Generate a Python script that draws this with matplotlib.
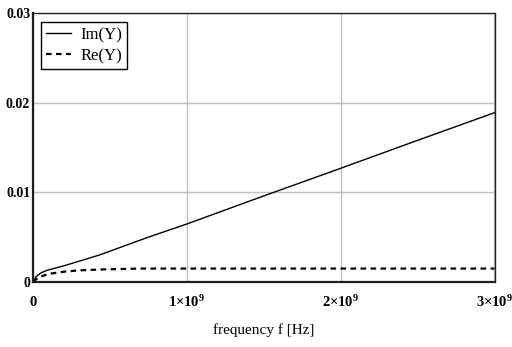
import matplotlib
matplotlib.use("Agg")
import matplotlib.pyplot as plt
from matplotlib.ticker import FixedLocator, FixedFormatter

plt.rcParams['mathtext.fontset'] = 'custom'
plt.rcParams['mathtext.rm'] = 'Liberation Serif'
plt.rcParams['mathtext.bf'] = 'Liberation Serif:bold'

# Data
freq_im = [0, 0.02e9, 0.05e9, 0.09e9, 0.2e9, 0.43e9, 0.75e9, 1.0e9, 1.5e9, 2.0e9, 2.5e9, 3.0e9]
im_y = [0, 0.0006, 0.0010, 0.0013, 0.0018, 0.0030, 0.0050, 0.00647, 0.0096, 0.01268, 0.0158, 0.01888]
freq_re = [0, 0.02e9, 0.05e9, 0.1e9, 0.2e9, 0.3e9, 0.45e9, 0.7e9, 1.0e9, 2.0e9, 3.0e9]
re_y = [0, 0.0003, 0.0006, 0.0009, 0.00115, 0.0013, 0.0014, 0.0015, 0.0015, 0.0015, 0.0015]

xticks = [0, 1e9, 2e9, 3e9]
xtick_labels = [r'$\mathbf{0}$', r'$\mathbf{1{\times}10^{9}}$', r'$\mathbf{2{\times}10^{9}}$', r'$\mathbf{3{\times}10^{9}}$']
yticks = [0, 0.01, 0.02, 0.03]
ytick_labels = ['0', '0.01', '0.02', '0.03']

fig = plt.figure(figsize=(5.12, 3.47), dpi=100)
ax = fig.add_axes([33/512, 1 - 282/347, (494.5 - 33)/512, (282 - 13)/347])

ax.plot(freq_im, im_y, color='black', lw=1.0, label='Im(Y)')
ax.plot(freq_re, re_y, color='black', lw=1.6, ls=(0, (2.5, 2.0)), label='Re(Y)')

ax.set_xlim(0, 3e9)
ax.set_ylim(0, 0.03)
ax.xaxis.set_major_locator(FixedLocator(xticks))
ax.xaxis.set_major_formatter(FixedFormatter(xtick_labels))
ax.yaxis.set_major_locator(FixedLocator(yticks))
ax.yaxis.set_major_formatter(FixedFormatter(ytick_labels))
ax.tick_params(axis='x', length=0, pad=9, labelsize=10.5)
ax.tick_params(axis='y', length=0, pad=2, labelsize=10)
for lbl in ax.get_yticklabels():
    lbl.set_fontfamily('Liberation Serif')
    lbl.set_fontweight('bold')
ax.grid(True, color='#c0c0c0', lw=1.0)
for s in ['left', 'bottom']:
    ax.spines[s].set_linewidth(1.6)
    ax.spines[s].set_color('#202020')
for s in ['top', 'right']:
    ax.spines[s].set_linewidth(1.0)
    ax.spines[s].set_color('#202020')

ax.set_xlabel('frequency f [Hz]', fontfamily='Liberation Serif', fontsize=11, labelpad=9)

leg = ax.legend(loc='upper left', bbox_to_anchor=(8/461.5, 1 - 9/269), prop={'family': 'Liberation Serif', 'size': 12},
                frameon=True, fancybox=False, framealpha=1, edgecolor='black', borderaxespad=0,
                handlelength=1.5, handletextpad=0.55, borderpad=0.3, labelspacing=0.32)
leg.get_frame().set_linewidth(1.0)

fig.savefig('out.png', dpi=100)
